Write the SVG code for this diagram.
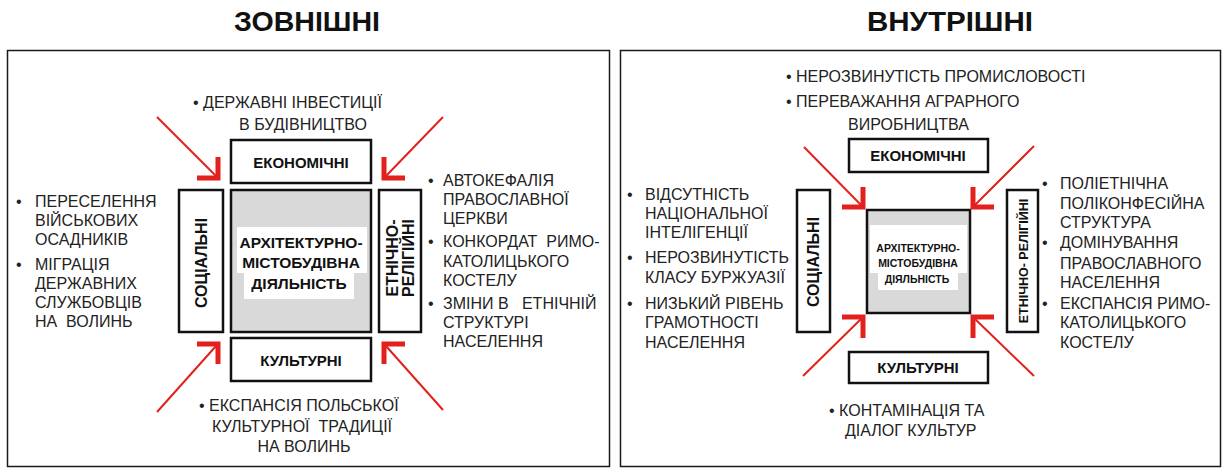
<svg xmlns="http://www.w3.org/2000/svg" width="1229" height="468" viewBox="0 0 1229 468">
<style>
.panel{fill:#fff;stroke:#1a1a1a;stroke-width:1.5}
.box{fill:#fff;stroke:#111;stroke-width:2.5}
.core{fill:#d9d9d9;stroke:#111;stroke-width:2.5}
.hl{fill:#fff}
.title{font-family:"Liberation Sans",Arial,sans-serif;font-weight:bold;font-size:27px;fill:#111;text-anchor:middle}
.lbl{font-family:"Liberation Sans",Arial,sans-serif;font-weight:bold;font-size:15px;fill:#111;text-anchor:middle}
.txt{font-family:"Liberation Sans",Arial,sans-serif;font-size:16px;fill:#222;white-space:pre}
.mid{text-anchor:middle}
.arr{stroke:#e2211c;stroke-width:2;fill:none}
.head{stroke:#e2211c;stroke-width:5;fill:none;stroke-linejoin:miter;stroke-linecap:butt}
</style>
<rect width="1229" height="468" fill="#fff"/>
<text class="title" x="307" y="31" textLength="146" lengthAdjust="spacingAndGlyphs">ЗОВНІШНІ</text>
<text class="title" x="950" y="31" textLength="166" lengthAdjust="spacingAndGlyphs">ВНУТРІШНІ</text>
<rect class="panel" x="7.5" y="50.5" width="602" height="416"/>
<rect class="panel" x="620.5" y="50.5" width="600" height="416"/>

<!-- LEFT PANEL -->
<g id="ext-core">
<rect class="core" x="231" y="190" width="140" height="142"/>
<rect class="hl" x="237" y="227" width="130" height="46"/>
<rect class="hl" x="244" y="273" width="110" height="26"/>
<text class="lbl" style="font-size:15.5px" x="301" y="248">АРХІТЕКТУРНО-</text>
<text class="lbl" style="font-size:15.5px" x="301" y="268">МІСТОБУДІВНА</text>
<text class="lbl" style="font-size:15.5px" x="299" y="289">ДІЯЛЬНІСТЬ</text>
</g>
<g id="ext-econ">
<rect class="box" x="231" y="140" width="140" height="43"/>
<text class="lbl" x="301" y="168">ЕКОНОМІЧНІ</text>
</g>
<g id="ext-cult">
<rect class="box" x="231" y="338" width="140" height="43"/>
<text class="lbl" x="301" y="366">КУЛЬТУРНІ</text>
</g>
<g id="ext-soc">
<rect class="box" x="179" y="190" width="44" height="142"/>
<text class="lbl" style="font-size:16px" transform="translate(207,263) rotate(-90)">СОЦІАЛЬНІ</text>
</g>
<g id="ext-eth">
<rect class="box" x="379" y="190" width="42" height="142"/>
<text class="lbl" style="font-size:16px" transform="translate(398,258) rotate(-90)">ЕТНІЧНО-</text>
<text class="lbl" style="font-size:16px" transform="translate(414,258) rotate(-90)">РЕЛІГІЙНІ</text>
</g>
<g id="ext-econ-notes">
<text class="txt" x="193" y="108">• ДЕРЖАВНІ ІНВЕСТИЦІЇ</text>
<text class="txt mid" x="303" y="130">В БУДІВНИЦТВО</text>
</g>
<g id="ext-soc-notes">
<text class="txt" x="16" y="207">•</text><text class="txt" x="35" y="207">ПЕРЕСЕЛЕННЯ</text>
<text class="txt" x="35" y="226">ВІЙСЬКОВИХ</text>
<text class="txt" x="35" y="245">ОСАДНИКІВ</text>
<text class="txt" x="16" y="270">•</text><text class="txt" x="35" y="270">МІГРАЦІЯ</text>
<text class="txt" x="35" y="289">ДЕРЖАВНИХ</text>
<text class="txt" x="35" y="308">СЛУЖБОВЦІВ</text>
<text class="txt" x="35" y="327" xml:space="preserve">НА  ВОЛИНЬ</text>
</g>
<g id="ext-eth-notes">
<text class="txt" x="428" y="186">•</text><text class="txt" x="443" y="186">АВТОКЕФАЛІЯ</text>
<text class="txt" x="443" y="205">ПРАВОСЛАВНОЇ</text>
<text class="txt" x="443" y="224">ЦЕРКВИ</text>
<text class="txt" x="428" y="247">•</text><text class="txt" x="443" y="247" xml:space="preserve">КОНКОРДАТ  РИМО-</text>
<text class="txt" x="443" y="267">КАТОЛИЦЬКОГО</text>
<text class="txt" x="443" y="286">КОСТЕЛУ</text>
<text class="txt" x="428" y="309">•</text><text class="txt" x="443" y="309" xml:space="preserve">ЗМІНИ В   ЕТНІЧНІЙ</text>
<text class="txt" x="443" y="328">СТРУКТУРІ</text>
<text class="txt" x="443" y="347">НАСЕЛЕННЯ</text>
</g>
<g id="ext-cult-notes">
<text class="txt" x="199" y="411">• ЕКСПАНСІЯ ПОЛЬСЬКОЇ</text>
<text class="txt mid" x="302" y="432" xml:space="preserve">КУЛЬТУРНОЇ  ТРАДИЦІЇ</text>
<text class="txt mid" x="304" y="452">НА ВОЛИНЬ</text>
</g>

<!-- RIGHT PANEL -->
<g id="int-core">
<rect class="core" x="867" y="210" width="103" height="103"/>
<rect class="hl" x="870" y="225" width="97" height="48"/>
<rect class="hl" x="878" y="273" width="80" height="17"/>
<text class="lbl" style="font-size:10.5px" x="918" y="252">АРХІТЕКТУРНО-</text>
<text class="lbl" style="font-size:10.5px" x="918" y="267">МІСТОБУДІВНА</text>
<text class="lbl" style="font-size:10.5px" x="917" y="283">ДІЯЛЬНІСТЬ</text>
</g>
<g id="int-econ">
<rect class="box" x="849" y="139" width="139" height="33"/>
<text class="lbl" x="918" y="161">ЕКОНОМІЧНІ</text>
</g>
<g id="int-cult">
<rect class="box" x="849" y="352" width="139" height="31"/>
<text class="lbl" x="918" y="373">КУЛЬТУРНІ</text>
</g>
<g id="int-soc">
<rect class="box" x="797" y="190" width="33" height="142"/>
<text class="lbl" style="font-size:16px" transform="translate(819,262) rotate(-90)">СОЦІАЛЬНІ</text>
</g>
<g id="int-eth">
<rect class="box" x="1007" y="190" width="31" height="142"/>
<text class="lbl" style="font-size:12.5px" transform="translate(1027.5,261) rotate(-90)">ЕТНІЧНО- РЕЛІГІЙНІ</text>
</g>
<g id="int-econ-notes">
<text class="txt" x="786" y="82">• НЕРОЗВИНУТІСТЬ ПРОМИСЛОВОСТІ</text>
<text class="txt" x="786" y="107">• ПЕРЕВАЖАННЯ АГРАРНОГО</text>
<text class="txt" x="848" y="130">ВИРОБНИЦТВА</text>
</g>
<g id="int-soc-notes">
<text class="txt" x="627" y="200">•</text><text class="txt" x="645" y="200">ВІДСУТНІСТЬ</text>
<text class="txt" x="645" y="219">НАЦІОНАЛЬНОЇ</text>
<text class="txt" x="645" y="238">ІНТЕЛІГЕНЦІЇ</text>
<text class="txt" x="627" y="263">•</text><text class="txt" x="645" y="263">НЕРОЗВИНУТІСТЬ</text>
<text class="txt" x="645" y="283">КЛАСУ БУРЖУАЗІЇ</text>
<text class="txt" x="627" y="309">•</text><text class="txt" x="645" y="309">НИЗЬКИЙ РІВЕНЬ</text>
<text class="txt" x="645" y="328">ГРАМОТНОСТІ</text>
<text class="txt" x="645" y="348">НАСЕЛЕННЯ</text>
</g>
<g id="int-eth-notes">
<text class="txt" x="1042" y="189">•</text><text class="txt" x="1060" y="189">ПОЛІЕТНІЧНА</text>
<text class="txt" x="1060" y="209">ПОЛІКОНФЕСІЙНА</text>
<text class="txt" x="1060" y="228">СТРУКТУРА</text>
<text class="txt" x="1042" y="248">•</text><text class="txt" x="1060" y="248">ДОМІНУВАННЯ</text>
<text class="txt" x="1060" y="269">ПРАВОСЛАВНОГО</text>
<text class="txt" x="1060" y="288">НАСЕЛЕННЯ</text>
<text class="txt" x="1042" y="309">•</text><text class="txt" x="1060" y="309">ЕКСПАНСІЯ РИМО-</text>
<text class="txt" x="1060" y="328">КАТОЛИЦЬКОГО</text>
<text class="txt" x="1060" y="348">КОСТЕЛУ</text>
</g>
<g id="int-cult-notes">
<text class="txt" x="829" y="416">• КОНТАМІНАЦІЯ ТА</text>
<text class="txt" x="845" y="436">ДІАЛОГ КУЛЬТУР</text>
</g>

<g id="connectors">
<line class="arr" x1="157" y1="117" x2="216" y2="176"/>
<polyline class="head" points="218,157 218,178 197,178"/>
<line class="arr" x1="443" y1="117" x2="386" y2="176"/>
<polyline class="head" points="384,157 384,178 405,178"/>
<line class="arr" x1="157" y1="412" x2="216" y2="346"/>
<polyline class="head" points="218,364 218,344 197,344"/>
<line class="arr" x1="443" y1="410" x2="386" y2="346"/>
<polyline class="head" points="384,364 384,344 405,344"/>

<line class="arr" x1="804" y1="147" x2="861" y2="205"/>
<polyline class="head" points="863,187 863,207 842,207"/>
<line class="arr" x1="1034" y1="146" x2="975" y2="205"/>
<polyline class="head" points="973,187 973,207 994,207"/>
<line class="arr" x1="803" y1="376" x2="861" y2="319"/>
<polyline class="head" points="863,338 863,317 842,317"/>
<line class="arr" x1="1034" y1="376" x2="975" y2="319"/>
<polyline class="head" points="973,338 973,317 994,317"/>
</g>
</svg>
